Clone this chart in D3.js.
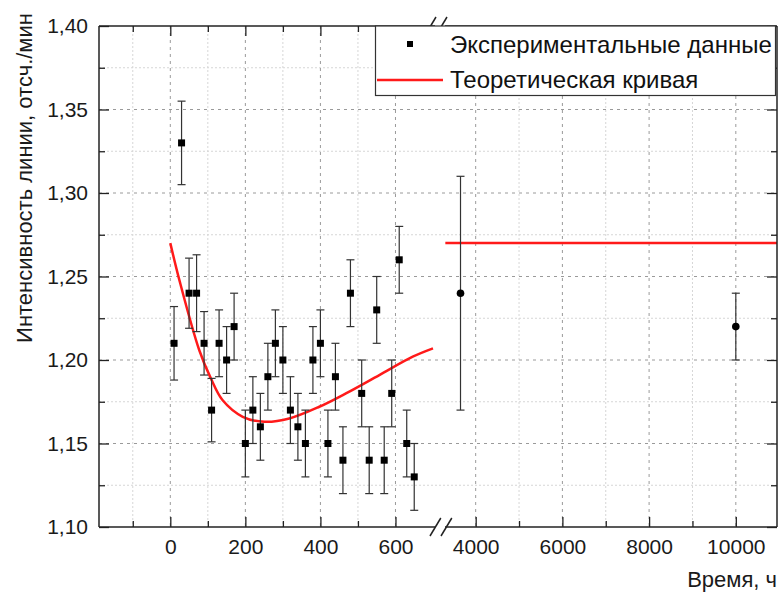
<!DOCTYPE html>
<html lang="ru">
<head>
    <meta charset="UTF-8">
    <title>Интенсивность линии</title>
    <script src="https://d3js.org/d3.v7.min.js"></script>
    <style>
        body { margin: 0; background: #fff; }
        svg { display: block; font-family: "Liberation Sans", Arial, sans-serif; }
        .axis .domain { display: none; }
        .axis line { stroke: #222; stroke-width: 1.3; }
        .axis text { fill: #1a1a1a; font-size: 21px; font-family: "Liberation Sans", Arial, sans-serif; }
        .grid-major line { stroke: #9a9a9a; stroke-width: 1; stroke-dasharray: 3 4; }
        .grid-minor line { stroke: #d6d6d6; stroke-width: 1; stroke-dasharray: 2 2; }
        .frame { stroke: #222; stroke-width: 1.5; fill: none; }
    </style>
</head>
<body>
<script>
    // measured points, early times (square markers)
    const tEarly = [10, 30, 50, 70, 90, 110, 130, 150, 170, 200, 220, 240, 260, 280, 300, 320,
                    340, 360, 380, 400, 420, 440, 460, 480, 510, 530, 550, 570, 590, 610, 630, 650];
    const vEarly = [1.21, 1.33, 1.24, 1.24, 1.21, 1.17, 1.21, 1.20, 1.22, 1.15, 1.17, 1.16, 1.19, 1.21, 1.20, 1.17,
                    1.16, 1.15, 1.20, 1.21, 1.15, 1.19, 1.14, 1.24, 1.18, 1.14, 1.23, 1.14, 1.18, 1.26, 1.15, 1.13];
    const eEarly = [0.022, 0.025, 0.021, 0.023, 0.019, 0.019, 0.02, 0.02, 0.02, 0.02, 0.02, 0.02, 0.02, 0.02, 0.02, 0.02,
                    0.02, 0.02, 0.02, 0.02, 0.02, 0.02, 0.02, 0.02, 0.02, 0.02, 0.02, 0.02, 0.02, 0.02, 0.02, 0.02];

    // measured points, late times (round markers)
    const tLate = [3650, 10000];
    const vLate = [1.24, 1.22];
    const eLate = [0.07, 0.02];

    // theoretical curve
    const curveT = [0, 24, 77, 108, 139, 193, 251, 317, 397, 468, 557, 646, 700];
    const curveV = [1.27, 1.248, 1.206, 1.189, 1.176, 1.166, 1.163, 1.165, 1.172, 1.180, 1.191, 1.202, 1.207];
    const flatT = [3300, 10950];
    const flatV = [1.27, 1.27];

    const yMajor = [1.10, 1.15, 1.20, 1.25, 1.30, 1.35, 1.40];
    const yMinor = [1.125, 1.175, 1.225, 1.275, 1.325, 1.375];
    const x1Major = [0, 200, 400, 600];
    const x1Minor = [-100, 100, 300, 500];
    const x2Major = [4000, 6000, 8000, 10000];
    const x2Minor = [5000, 7000, 9000];

    const width = 779, height = 593;
    const mLeft = 99, mRight = 777, mTop = 26, mBottom = 527;
    const break1 = 433, break2 = 441;

    const x1 = d3.scaleLinear().domain([-190, 700]).range([mLeft, break1]);
    const x2 = d3.scaleLinear().domain([3200, 10950]).range([break2, mRight]);
    const y = d3.scaleLinear().domain([1.10, 1.40]).range([mBottom, mTop]);
    const fmt = d3.formatLocale({decimal: ",", thousands: "", grouping: [3], currency: ["", ""]}).format(".2f");

    const svg = d3.select("body").append("svg")
        .attr("width", width).attr("height", height);

    // grids
    const gMinor = svg.append("g").attr("class", "grid-minor");
    gMinor.selectAll("line.h").data(yMinor).join("line").attr("class", "h")
        .attr("x1", mLeft).attr("x2", mRight).attr("y1", d => y(d)).attr("y2", d => y(d));
    gMinor.selectAll("line.v1").data(x1Minor).join("line").attr("class", "v1")
        .attr("x1", d => x1(d)).attr("x2", d => x1(d)).attr("y1", mTop).attr("y2", mBottom);
    gMinor.selectAll("line.v2").data(x2Minor).join("line").attr("class", "v2")
        .attr("x1", d => x2(d)).attr("x2", d => x2(d)).attr("y1", mTop).attr("y2", mBottom);

    const gMajor = svg.append("g").attr("class", "grid-major");
    gMajor.selectAll("line.h").data(yMajor.slice(1, -1)).join("line").attr("class", "h")
        .attr("x1", mLeft).attr("x2", mRight).attr("y1", d => y(d)).attr("y2", d => y(d));
    gMajor.selectAll("line.v1").data(x1Major).join("line").attr("class", "v1")
        .attr("x1", d => x1(d)).attr("x2", d => x1(d)).attr("y1", mTop).attr("y2", mBottom);
    gMajor.selectAll("line.v2").data(x2Major).join("line").attr("class", "v2")
        .attr("x1", d => x2(d)).attr("x2", d => x2(d)).attr("y1", mTop).attr("y2", mBottom);

    // theory lines
    const line1 = d3.line().x(d => x1(d[0])).y(d => y(d[1])).curve(d3.curveCatmullRom);
    svg.append("path").datum(d3.zip(curveT, curveV))
        .attr("d", line1).attr("fill", "none").attr("stroke", "#ff1a1a").attr("stroke-width", 2.5);
    const line2 = d3.line().x(d => x2(d[0])).y(d => y(d[1]));
    svg.append("path").datum(d3.zip(flatT, flatV))
        .attr("d", line2).attr("fill", "none").attr("stroke", "#ff1a1a").attr("stroke-width", 2.5);

    // error bars + markers
    function errBars(g, data, sx) {
        const e = g.selectAll("g").data(data).join("g");
        e.append("line").attr("x1", d => sx(d.t)).attr("x2", d => sx(d.t))
            .attr("y1", d => y(d.v - d.e)).attr("y2", d => y(d.v + d.e));
        e.append("line").attr("x1", d => sx(d.t) - 4).attr("x2", d => sx(d.t) + 4)
            .attr("y1", d => y(d.v - d.e)).attr("y2", d => y(d.v - d.e));
        e.append("line").attr("x1", d => sx(d.t) - 4).attr("x2", d => sx(d.t) + 4)
            .attr("y1", d => y(d.v + d.e)).attr("y2", d => y(d.v + d.e));
        return e;
    }
    const early = tEarly.map((t, i) => ({t, v: vEarly[i], e: eEarly[i]}));
    const late = tLate.map((t, i) => ({t, v: vLate[i], e: eLate[i]}));

    const gE = svg.append("g").attr("stroke", "#333").attr("stroke-width", 1.2);
    errBars(gE, early, x1).append("rect")
        .attr("x", d => x1(d.t) - 3.5).attr("y", d => y(d.v) - 3.5)
        .attr("width", 7).attr("height", 7).attr("fill", "#000").attr("stroke", "none");
    const gL = svg.append("g").attr("stroke", "#333").attr("stroke-width", 1.2);
    errBars(gL, late, x2).append("circle")
        .attr("cx", d => x2(d.t)).attr("cy", d => y(d.v)).attr("r", 3.8)
        .attr("fill", "#000").attr("stroke", "none");

    // axes (ticks point inward)
    svg.append("g").attr("class", "axis").attr("transform", `translate(${mLeft},0)`)
        .call(d3.axisLeft(y).tickValues(yMajor).tickFormat(fmt).tickSize(-10).tickPadding(11));
    svg.append("g").attr("class", "axis").attr("transform", `translate(${mLeft},0)`)
        .call(d3.axisLeft(y).tickValues(yMinor).tickFormat("").tickSize(-6));
    svg.append("g").attr("class", "axis").attr("transform", `translate(${mRight},0)`)
        .call(d3.axisRight(y).tickValues(yMajor).tickFormat("").tickSize(-10));
    svg.append("g").attr("class", "axis").attr("transform", `translate(${mRight},0)`)
        .call(d3.axisRight(y).tickValues(yMinor).tickFormat("").tickSize(-6));

    [[x1, x1Major, x1Minor], [x2, x2Major, x2Minor]].forEach(([sx, maj, min]) => {
        svg.append("g").attr("class", "axis").attr("transform", `translate(0,${mBottom})`)
            .call(d3.axisBottom(sx).tickValues(maj).tickFormat(d3.format("d")).tickSize(-10).tickPadding(12));
        svg.append("g").attr("class", "axis").attr("transform", `translate(0,${mBottom})`)
            .call(d3.axisBottom(sx).tickValues(min).tickFormat("").tickSize(-6));
        svg.append("g").attr("class", "axis").attr("transform", `translate(0,${mTop})`)
            .call(d3.axisTop(sx).tickValues(maj).tickFormat("").tickSize(-10));
        svg.append("g").attr("class", "axis").attr("transform", `translate(0,${mTop})`)
            .call(d3.axisTop(sx).tickValues(min).tickFormat("").tickSize(-6));
    });

    // frame with broken x axis
    const frame = svg.append("g").attr("class", "frame");
    frame.append("line").attr("x1", mLeft).attr("x2", mLeft).attr("y1", mTop).attr("y2", mBottom);
    frame.append("line").attr("x1", mRight).attr("x2", mRight).attr("y1", mTop).attr("y2", mBottom);
    [mTop, mBottom].forEach(yy => {
        frame.append("line").attr("x1", mLeft).attr("x2", break1 + 2).attr("y1", yy).attr("y2", yy);
        frame.append("line").attr("x1", break2 + 4).attr("x2", mRight).attr("y1", yy).attr("y2", yy);
    });
    [[mTop - 9, mTop + 1], [mBottom - 9, mBottom + 9]].forEach(([ya, yb]) => {
        [0, 11].forEach(dx => {
            frame.append("line")
                .attr("x1", 430 + dx).attr("y1", yb)
                .attr("x2", 430 + dx + (yb - ya) * 0.6).attr("y2", ya);
        });
    });

    // legend
    const lg = svg.append("g");
    lg.append("rect").attr("x", 375.5).attr("y", 26).attr("width", 400).attr("height", 69.5)
        .attr("fill", "#fff").attr("stroke", "#333").attr("stroke-width", 1.2);
    lg.append("rect").attr("x", 407).attr("y", 41).attr("width", 6).attr("height", 6).attr("fill", "#000");
    lg.append("line").attr("x1", 377).attr("x2", 443).attr("y1", 80).attr("y2", 80)
        .attr("stroke", "#ff1a1a").attr("stroke-width", 2.5);
    lg.append("text").attr("x", 450).attr("y", 53).attr("font-size", 24).attr("fill", "#111")
        .text("Экспериментальные данные");
    lg.append("text").attr("x", 450).attr("y", 88).attr("font-size", 24).attr("fill", "#111")
        .text("Теоретическая кривая");

    // axis titles
    svg.append("text").attr("transform", "translate(32,178) rotate(-90)")
        .attr("text-anchor", "middle").attr("font-size", 22).attr("fill", "#1a1a1a")
        .text("Интенсивность линии, отсч./мин");
    svg.append("text").attr("x", 777).attr("y", 587).attr("text-anchor", "end")
        .attr("font-size", 22).attr("fill", "#1a1a1a").text("Время, ч");
</script>
</body>
</html>
